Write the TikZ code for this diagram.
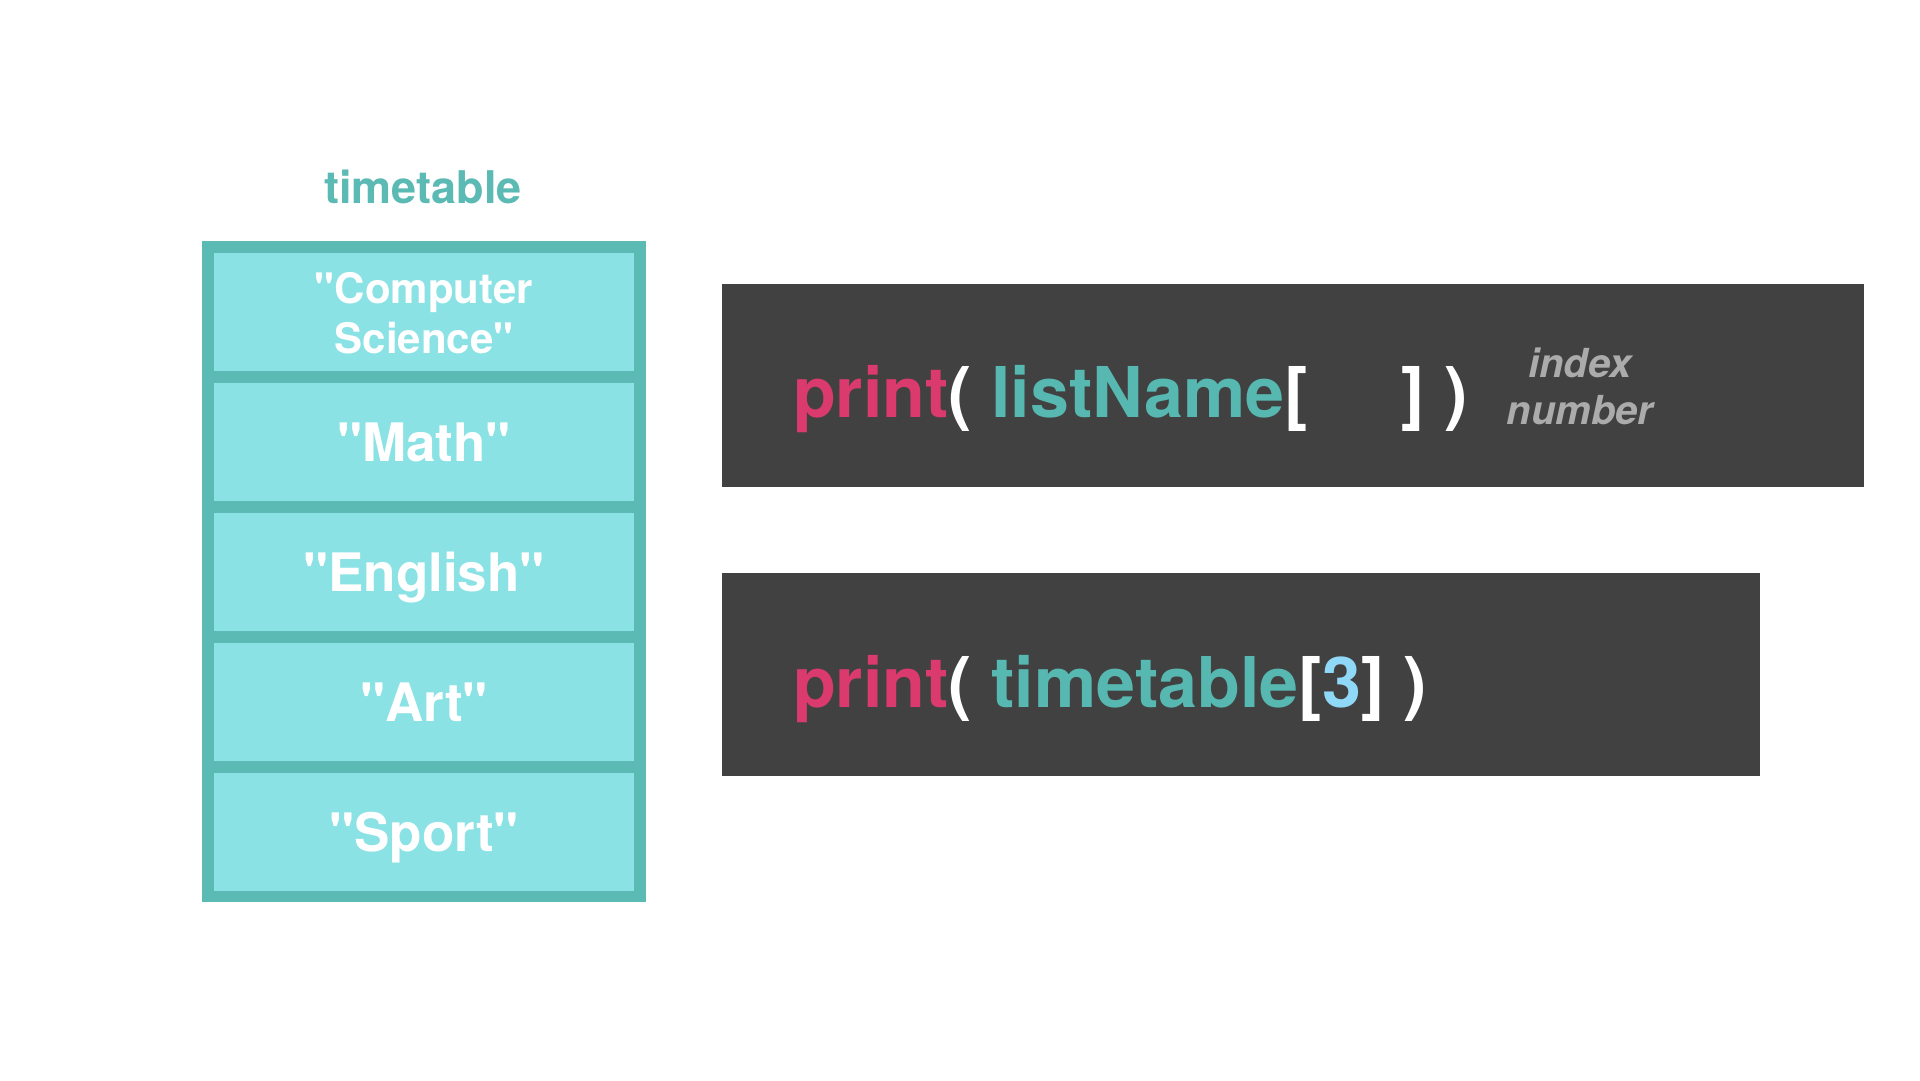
\documentclass[tikz,border=0pt]{standalone}
\usepackage{fontspec}
% a family without TeX ligature mapping, so " stays a straight quote
\newfontfamily\heros{TeX Gyre Heros}
\definecolor{tealdark}{HTML}{5BBAB3}
\definecolor{teallight}{HTML}{8BE2E5}
\definecolor{codebg}{HTML}{414141}
\definecolor{codepink}{HTML}{DB3A6E}
\definecolor{codeteal}{HTML}{56B8B0}
\definecolor{codeblue}{HTML}{8FD8F8}
\definecolor{hintgray}{HTML}{ABABAB}
\newcommand{\px}[1]{\fontsize{#1}{#1}\selectfont}
\begin{document}
\begin{tikzpicture}[x=1pt,y=-1pt,
  cellbox/.style={fill=teallight, minimum width=420pt, minimum height=118pt, inner sep=0pt, draw=none},
  celltext/.style={anchor=base, text=white, inner sep=0pt},
  codebox/.style={fill=codebg},
  codeline/.style={anchor=base west, inner sep=0pt, font=\heros\bfseries\px{70}}]
  % canvas
  \fill[white] (0,0) rectangle (1920,1080);
  \useasboundingbox (0,0) rectangle (1920,1080);

  % list title
  \node[anchor=base, inner sep=0pt, text=tealdark, font=\heros\bfseries\px{45}] (title) at (423,203) {timetable};

  % list frame and its five cells
  \fill[tealdark] (202,241) rectangle (646,902);
  \foreach \i in {0,...,4} {
    \node[cellbox] (cell\i) at (424,{312+130*\i}) {};
  }
  \node[celltext, font=\heros\bfseries\px{42}] (t0) at (424,303) {"Computer};
  \node[celltext, font=\heros\bfseries\px{42}] (t0b) at (424,353) {Science"};
  \node[celltext, font=\heros\bfseries\px{53}] (t1) at (424,461) {"Math"};
  \node[celltext, font=\heros\bfseries\px{53}] (t2) at (424,591) {"English"};
  \node[celltext, font=\heros\bfseries\px{53}] (t3) at (424,721) {"Art"};
  \node[celltext, font=\heros\bfseries\px{53}] (t4) at (424,851) {"Sport"};

  % general form
  \fill[codebox] (722,284) rectangle (1864,487);
  \node[codeline] (general) at (793,417)
    {\textcolor{codepink}{print}\textcolor{white}{(} \textcolor{codeteal}{listName}\textcolor{white}{[}\hspace{94pt}\textcolor{white}{]} \textcolor{white}{)}};
  \node[anchor=base, inner sep=0pt, text=hintgray, font=\heros\bfseries\itshape\px{40}] (hint1) at (1580,377) {index};
  \node[anchor=base, inner sep=0pt, text=hintgray, font=\heros\bfseries\itshape\px{40}] (hint2) at (1580,424) {number};

  % worked example
  \fill[codebox] (722,573) rectangle (1760,776);
  \node[codeline] (example) at (793,707)
    {\textcolor{codepink}{print}\textcolor{white}{(} \textcolor{codeteal}{timetable}\textcolor{white}{[}\textcolor{codeblue}{3}\textcolor{white}{]} \textcolor{white}{)}};
\end{tikzpicture}
\end{document}
